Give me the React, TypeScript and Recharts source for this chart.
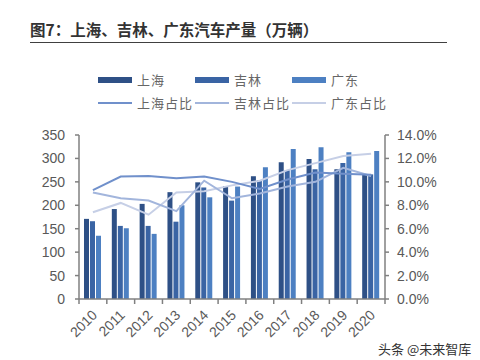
import { ComposedChart, Bar, Line, XAxis, YAxis } from "recharts";

// 上海、吉林、广东汽车产量（万辆）及占全国比重
const years = ["2010", "2011", "2012", "2013", "2014", "2015", "2016", "2017", "2018", "2019", "2020"];
const shanghai = [171, 192, 203, 228, 249, 241, 262, 292, 299, 277, 266];
const jilin = [166, 156, 156, 165, 238, 210, 254, 275, 277, 290, 266];
const guangdong = [135, 151, 139, 200, 217, 240, 281, 320, 324, 313, 316];
const shanghaiPct = [9.3, 10.45, 10.5, 10.3, 10.45, 10.0, 9.4, 10.2, 10.8, 10.7, 10.6];
const jilinPct = [9.1, 8.6, 8.4, 7.5, 10.1, 8.6, 9.0, 9.6, 10.0, 11.2, 10.5];
const guangdongPct = [7.4, 8.2, 7.2, 9.1, 9.2, 9.7, 10.1, 11.0, 11.6, 12.2, 12.4];
const leftTicks = [0, 50, 100, 150, 200, 250, 300, 350];
const rightTicks = [0, 2, 4, 6, 8, 10, 12, 14];

const data = years.map((y, i) => ({
  year: y,
  sh: shanghai[i],
  jl: jilin[i],
  gd: guangdong[i],
  shP: shanghaiPct[i],
  jlP: jilinPct[i],
  gdP: guangdongPct[i],
}));

const C = {
  sh: "#2e5086",
  jl: "#3a64a4",
  gd: "#4d80c2",
  shP: "#7090cb",
  jlP: "#a2b5dc",
  gdP: "#c6cfe6",
  axis: "#808080",
  text: "#595959",
};

const BAND = 306 / years.length;
const numFont = "'Liberation Sans', Arial, sans-serif";
const cjk = "'Noto Sans CJK SC', sans-serif";

function YearTick(props: any) {
  const { x, y, payload, index } = props;
  const ax = x + 5;
  const ay = y + 17;
  return (
    <g>
      <line x1={x - BAND / 2} y1={y} x2={x - BAND / 2} y2={y + 5} stroke={C.axis} strokeWidth={1.5} />
      {index === years.length - 1 && (
        <line x1={x + BAND / 2} y1={y} x2={x + BAND / 2} y2={y + 5} stroke={C.axis} strokeWidth={1.5} />
      )}
      <text x={ax} y={ay} textAnchor="end" transform={`rotate(-45, ${ax}, ${ay})`} fill={C.text} fontSize={14} fontFamily={numFont}>
        {payload.value}
      </text>
    </g>
  );
}

function Swatch({ color, line, label, left, top }: { color: string; line?: boolean; label: string; left: number; top: number }) {
  return (
    <div style={{ position: "absolute", left, top, display: "flex", alignItems: "center", height: 14 }}>
      <div style={{ width: 34, height: line ? 2 : 6, background: color }} />
      <span style={{ marginLeft: 5, fontSize: 13, color: "#666", fontFamily: cjk, letterSpacing: 1, lineHeight: "14px" }}>{label}</span>
    </div>
  );
}

export default function App() {
  return (
    <div style={{ position: "absolute", left: 0, top: 0, width: 480, height: 360, background: "#fff", overflow: "hidden" }}>
      <div style={{ position: "absolute", left: 30, top: 19, fontSize: 15.5, fontWeight: 700, color: "#333", fontFamily: cjk, lineHeight: "20px", whiteSpace: "nowrap" }}>
        图7：上海、吉林、广东汽车产量（万辆）
      </div>
      <div style={{ position: "absolute", left: 30, top: 42, width: 417, height: 1, background: "#404040" }} />

      <Swatch color={C.sh} label="上海" left={98} top={73} />
      <Swatch color={C.jl} label="吉林" left={195} top={73} />
      <Swatch color={C.gd} label="广东" left={292} top={73} />
      <Swatch color={C.shP} line label="上海占比" left={98} top={96} />
      <Swatch color={C.jlP} line label="吉林占比" left={195} top={96} />
      <Swatch color={C.gdP} line label="广东占比" left={292} top={96} />

      <div style={{ position: "absolute", left: 0, top: 0 }}>
        <ComposedChart width={480} height={360} data={data} margin={{ top: 135, right: 0, bottom: 0, left: 0 }} barGap={1}>
          <XAxis
            dataKey="year"
            height={61}
            tick={<YearTick />}
            tickLine={false}
            tickSize={0}
            tickMargin={0}
            interval={0}
            axisLine={{ stroke: C.axis, strokeWidth: 1.5 }}
          />
          <YAxis
            yAxisId="l"
            width={79}
            domain={[0, 350]}
            ticks={leftTicks}
            tickSize={4}
            tickMargin={10}
            tick={{ fill: C.text, fontSize: 14, fontFamily: numFont }}
            axisLine={{ stroke: C.axis, strokeWidth: 1.5 }}
            tickLine={{ stroke: C.axis, strokeWidth: 1.5 }}
          />
          <YAxis
            yAxisId="r"
            orientation="right"
            width={95}
            domain={[0, 14]}
            ticks={rightTicks}
            tickFormatter={(v: number) => v.toFixed(1) + "%"}
            tickSize={4}
            tickMargin={8}
            tick={{ fill: C.text, fontSize: 14, fontFamily: numFont }}
            axisLine={{ stroke: C.axis, strokeWidth: 1.5 }}
            tickLine={{ stroke: C.axis, strokeWidth: 1.5 }}
          />
          <Bar yAxisId="l" dataKey="sh" fill={C.sh} barSize={5} isAnimationActive={false} />
          <Bar yAxisId="l" dataKey="jl" fill={C.jl} barSize={5} isAnimationActive={false} />
          <Bar yAxisId="l" dataKey="gd" fill={C.gd} barSize={5} isAnimationActive={false} />
          <Line yAxisId="r" type="linear" dataKey="gdP" stroke={C.gdP} strokeWidth={2} dot={false} isAnimationActive={false} />
          <Line yAxisId="r" type="linear" dataKey="jlP" stroke={C.jlP} strokeWidth={2} dot={false} isAnimationActive={false} />
          <Line yAxisId="r" type="linear" dataKey="shP" stroke={C.shP} strokeWidth={2} dot={false} isAnimationActive={false} />
        </ComposedChart>
      </div>

      <div style={{ position: "absolute", left: 378, top: 341, fontSize: 13, color: "#333", fontFamily: cjk, lineHeight: "16px", whiteSpace: "nowrap" }}>
        头条 @未来智库
      </div>
    </div>
  );
}
